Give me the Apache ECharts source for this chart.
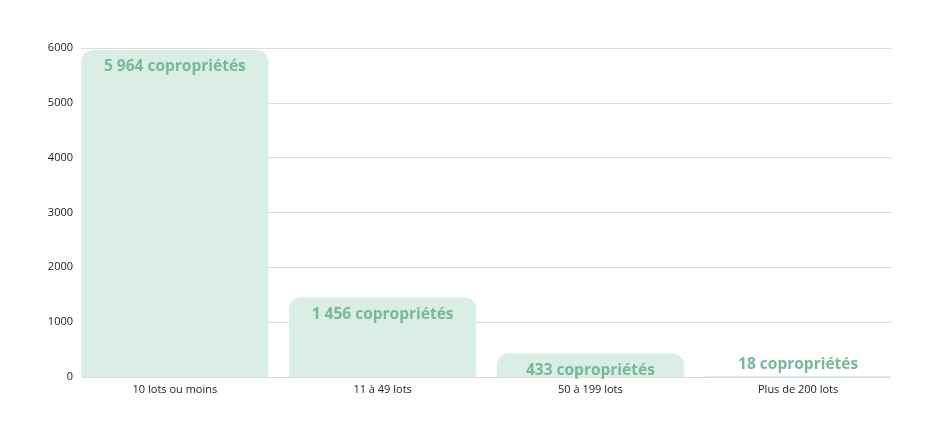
<!DOCTYPE html>
<html><head><meta charset="utf-8">
<script src="https://cdn.jsdelivr.net/npm/echarts@6/dist/echarts.min.js"></script>
<style>html,body{margin:0;padding:0;background:#fff}#c{width:935px;height:437px}</style>
</head><body><div id="c"></div>
<script>
const categories = ['10 lots ou moins', '11 à 49 lots', '50 à 199 lots', 'Plus de 200 lots'];
const values = [5964, 1456, 433, 18];
const labels = ['5 964 copropriétés', '1 456 copropriétés', '433 copropriétés', '18 copropriétés'];
const yMin = 0, yMax = 6000, yInterval = 1000;

const chart = echarts.init(document.getElementById('c'));
chart.setOption({
  animation: false,
  grid: [
    {left: 81, right: 44, top: 48, bottom: 60},
    {left: 71, right: 33, top: 48, bottom: 60}
  ],
  xAxis: [
    {gridIndex: 0, type: 'category', data: categories, show: false},
    {gridIndex: 1, type: 'category', data: categories,
     axisLine: {show: false}, axisTick: {show: false},
     axisLabel: {fontFamily: 'Open Sans', fontSize: 11, color: '#222', margin: 7}}
  ],
  yAxis: [
    {gridIndex: 0, type: 'value', min: yMin, max: yMax, interval: yInterval,
     axisLine: {show: false}, axisTick: {show: false},
     axisLabel: {fontFamily: 'Open Sans', fontSize: 11, color: '#222', margin: 8,
                 formatter: v => String(v)},
     splitLine: {lineStyle: {color: '#dcdcdc', width: 1}}},
    {gridIndex: 1, type: 'value', min: yMin, max: yMax, interval: yInterval, show: false,
     splitLine: {show: false}}
  ],
  series: [{
    type: 'bar', xAxisIndex: 1, yAxisIndex: 1,
    barWidth: 187,
    data: values.map((v, i) => ({
      value: v,
      label: i === 3 ? {position: 'top', distance: 3} : {}
    })),
    itemStyle: {color: '#daeee6', borderRadius: [12, 12, 0, 0]},
    label: {
      show: true, position: 'insideTop', distance: 9,
      fontFamily: 'Open Sans', fontWeight: 'bold', fontSize: 15.5, color: '#78b99a',
      formatter: p => labels[p.dataIndex]
    }
  }]
});
</script></body></html>
